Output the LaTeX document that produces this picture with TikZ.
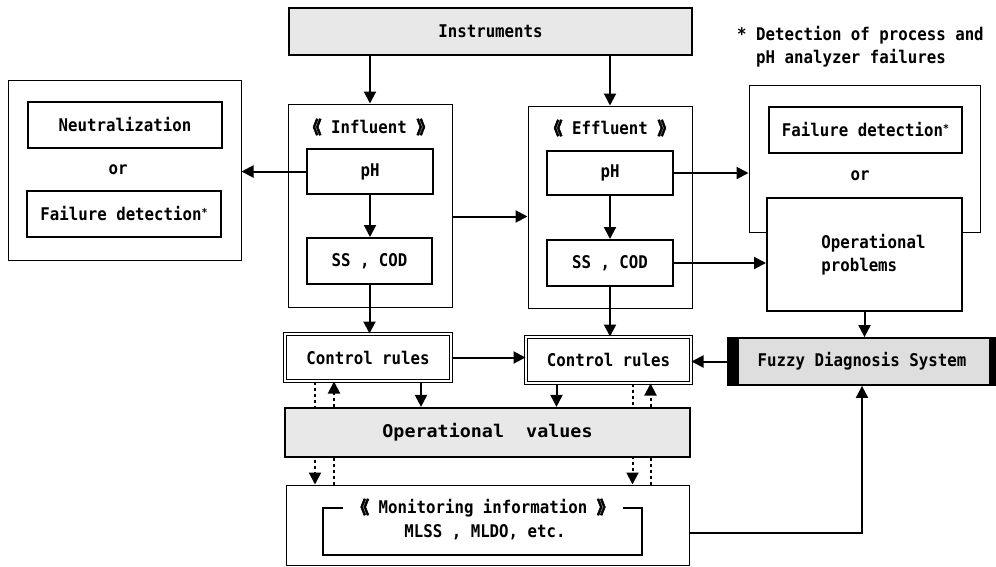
\documentclass[tikz,border=0pt]{standalone}
\usepackage{fontspec}
\newfontfamily\gothic{DejaVu Sans Mono}[FakeStretch=0.9]
\newfontfamily\gothicwide{DejaVu Sans Mono}[FakeStretch=1.05]
\newfontfamily\cjk{Noto Sans CJK JP}[FakeBold=3]
\usetikzlibrary{arrows.meta}
\newcommand{\lbr}{{\cjk 《}}
\newcommand{\rbr}{{\cjk 》}}
\newcommand{\fnmark}{\raisebox{4pt}{\fontsize{11}{11}\selectfont *}}

\begin{document}
\begin{tikzpicture}[x=1pt, y=-1pt, every node/.style={font=\gothic\bfseries\fontsize{17.5}{23}\selectfont}, box/.style={draw, line width=2pt, fill=white, inner sep=0pt}, grp/.style={draw, line width=1pt, inner sep=0pt}, rules/.style={draw, double, double distance=2pt, line width=1pt, fill=white, inner sep=0pt}, shade/.style={draw, line width=2.2pt, fill=black!9, inner sep=0pt}, arr/.style={-{Triangle[length=12pt,width=12pt]}, line width=2pt}, darr/.style={arr, dash pattern=on 3pt off 3pt}]
\useasboundingbox (0,0) rectangle (996,566);
\node[shade, minimum width=403pt, minimum height=47pt] (instr) at (490.5,31.5) {Instruments};
\node[anchor=base west, inner sep=0pt] (note1) at (737,40) {* Detection of process and};
\node[anchor=base west, inner sep=0pt] (note2) at ([yshift=-23pt]note1.base west) {\phantom{* }pH analyzer failures};
\node[grp, minimum width=233pt, minimum height=180pt] (lgrp) at (124.5,170) {};
\node[box, minimum width=194pt, minimum height=46pt] (neut) at (125,125) {Neutralization};
\node (or1) at (118,170) {or};
\node[box, minimum width=194pt, minimum height=46pt] (fail1) at (124,214) {Failure detection\fnmark};
\node[grp, minimum width=164pt, minimum height=203pt] (infl) at (370,205.5) {};
\node (inflt) at (369,127) {\lbr\ Influent \rbr};
\node[box, minimum width=126pt, minimum height=45pt] (ph1) at (370,171.5) {pH};
\node[box, minimum width=125pt, minimum height=46pt] (ss1) at (369.5,261) {SS , COD};
\node[grp, minimum width=164pt, minimum height=202pt] (effl) at (610,207) {};
\node (efflt) at (610,128) {\lbr\ Effluent \rbr};
\node[box, minimum width=126pt, minimum height=44pt] (ph2) at (610,173) {pH};
\node[box, minimum width=126pt, minimum height=46pt] (ss2) at (610,263) {SS , COD};
\node[grp, minimum width=231pt, minimum height=147pt] (rgrp) at (864.5,158.5) {};
\node[box, minimum width=193pt, minimum height=46pt] (fail2) at (865.5,130) {Failure detection\fnmark};
\node (or2) at (860,176) {or};
\node[box, align=left, minimum width=195pt, minimum height=113pt] (oper) at (864.5,254.5) {\hspace*{18pt}Operational\\\hspace*{18pt}problems};
\node[rules, minimum width=166pt, minimum height=47pt] (cr1) at (368,357.5) {Control rules};
\node[rules, minimum width=165pt, minimum height=46pt] (cr2) at (608.5,360) {Control rules};
\node[shade, fill=black!13, line width=1.8pt, minimum width=268pt, minimum height=47pt] (fuzzy) at (862,361.5) {Fuzzy Diagnosis System};
\fill (fuzzy.north west) rectangle ([xshift=12pt]fuzzy.south west);
\fill ([xshift=-8pt]fuzzy.north east) rectangle (fuzzy.south east);
\node[grp, minimum width=403pt, minimum height=80pt] (mon) at (487.5,525) {};
\node[draw, line width=1.6pt, minimum width=319pt, minimum height=47pt] (monfr) at (482.5,531.5) {};
\node[fill=white, minimum width=280pt, inner ysep=2pt] (mont) at (483,508) {\lbr\ Monitoring information \rbr};
\node (monv) at (485,532) {MLSS , MLDO, etc.};
\draw[darr] ([xshift=-53pt]cr1.south) -- ([xshift=-53pt]cr1.south |- mon.north); \draw[darr] ([xshift=-34pt]cr1.south |- mon.north) -- ([xshift=-34pt]cr1.south);
\draw[darr] ([xshift=24pt]cr2.south) -- ([xshift=24pt]cr2.south |- mon.north); \draw[darr] ([xshift=42pt]cr2.south |- mon.north) -- ([xshift=42pt]cr2.south);
\node[shade, minimum width=405pt, minimum height=49pt] (opval) at (487.5,432.5) {\gothicwide\bfseries Operational\ \ values};
\draw[arr] (instr.south -| infl.north) -- (infl.north); \draw[arr] (instr.south -| effl.north) -- (effl.north);
\draw[arr] (ph1.west) -- (ph1.west -| lgrp.east); \draw[arr] (ph1.south) -- (ph1.south |- ss1.north); \draw[arr] (ph2.south) -- (ph2.south |- ss2.north);
\draw[arr] ([yshift=-11pt]infl.east) -- ([yshift=-11pt]infl.east -| effl.west);
\draw[arr] (ph2.east) -- (ph2.east -| rgrp.west); \draw[arr] (ss2.east) -- (ss2.east -| oper.west);
\draw[arr] (ss1.south) -- (ss1.south |- cr1.north); \draw[arr] (ss2.south) -- (ss2.south |- cr2.north);
\draw[arr] (oper.south) -- (oper.south |- fuzzy.north);
\draw[arr] (cr1.east) -- (cr1.east -| cr2.west); \draw[arr] (fuzzy.west) -- (fuzzy.west -| cr2.east);
\draw[arr] ([xshift=53pt]cr1.south) -- ([xshift=53pt]cr1.south |- opval.north); \draw[arr] ([xshift=-52pt]cr2.south) -- ([xshift=-52pt]cr2.south |- opval.north);
\draw[arr] ([yshift=-8pt]mon.east) -| (fuzzy.south);
\end{tikzpicture}
\end{document}
